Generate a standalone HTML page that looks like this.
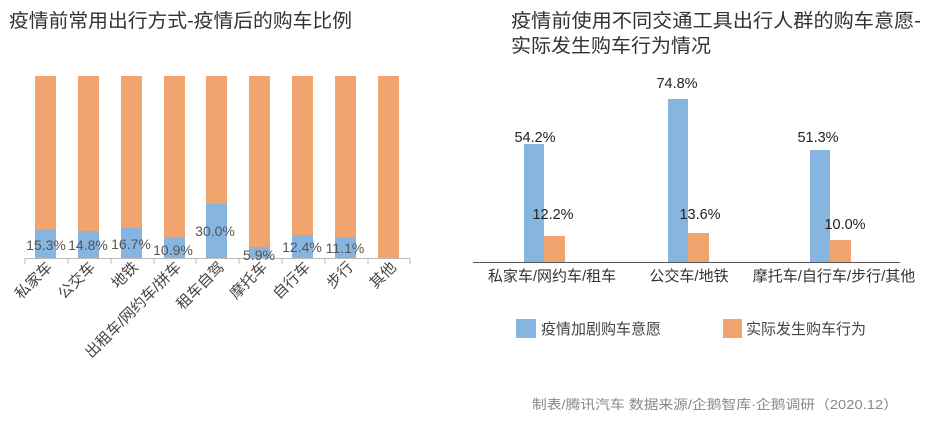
<!DOCTYPE html>
<html><head><meta charset="utf-8"><style>
body{margin:0;background:#fff;}
svg{display:block;font-family:"Liberation Sans","Noto Sans CJK SC",sans-serif;}
</style></head><body>
<svg width="936" height="424" viewBox="0 0 936 424" xmlns="http://www.w3.org/2000/svg">
<g fill="#333" font-size="19">
<text x="9" y="27" textLength="343" lengthAdjust="spacingAndGlyphs">疫情前常用出行方式-疫情后的购车比例</text>
<text x="511" y="27" textLength="410" lengthAdjust="spacingAndGlyphs">疫情前使用不同交通工具出行人群的购车意愿-</text>
<text x="511" y="52" textLength="200" lengthAdjust="spacingAndGlyphs">实际发生购车行为情况</text>
</g>
<g>
<line x1="25" y1="258.5" x2="410" y2="258.5" stroke="#bbb" stroke-width="1"/>
<g stroke="#bbb">
<line x1="25" y1="258" x2="25" y2="264"/><line x1="68" y1="258" x2="68" y2="264"/><line x1="111" y1="258" x2="111" y2="264"/><line x1="154" y1="258" x2="154" y2="264"/><line x1="196" y1="258" x2="196" y2="264"/><line x1="239" y1="258" x2="239" y2="264"/><line x1="282" y1="258" x2="282" y2="264"/><line x1="325" y1="258" x2="325" y2="264"/><line x1="368" y1="258" x2="368" y2="264"/><line x1="410" y1="258" x2="410" y2="264"/>
</g>
<g fill="#F0A46E">
<rect x="35" y="76" width="21" height="182"/><rect x="78" y="76" width="21" height="182"/><rect x="121" y="76" width="21" height="182"/><rect x="164" y="76" width="21" height="182"/><rect x="206" y="76" width="21" height="182"/><rect x="249" y="76" width="21" height="182"/><rect x="292" y="76" width="21" height="182"/><rect x="335" y="76" width="21" height="182"/><rect x="378" y="76" width="21" height="182"/>
</g>
<g fill="#86B5E0">
<rect x="35" y="230" width="21" height="28"/><rect x="78" y="231" width="21" height="27"/><rect x="121" y="228" width="21" height="30"/><rect x="164" y="238" width="21" height="20"/><rect x="206" y="204" width="21" height="54"/><rect x="249" y="247" width="21" height="11"/><rect x="292" y="235" width="21" height="23"/><rect x="335" y="238" width="21" height="20"/>
</g>
<g fill="#555" font-size="14" text-anchor="middle">
<text x="46" y="250">15.3%</text><text x="88" y="250">14.8%</text><text x="131" y="249">16.7%</text><text x="173" y="255">10.9%</text><text x="215" y="236">30.0%</text><text x="259" y="260">5.9%</text><text x="302" y="252">12.4%</text><text x="345" y="253">11.1%</text>
</g>
<g fill="#444" font-size="15" text-anchor="end">
<text transform="translate(53,268) rotate(-45)">私家车</text>
<text transform="translate(96,268) rotate(-45)">公交车</text>
<text transform="translate(139,268) rotate(-45)">地铁</text>
<text transform="translate(182,268) rotate(-45)">出租车/网约车/拼车</text>
<text transform="translate(225,268) rotate(-45)">租车自驾</text>
<text transform="translate(268,268) rotate(-45)">摩托车</text>
<text transform="translate(311,268) rotate(-45)">自行车</text>
<text transform="translate(354,268) rotate(-45)">步行</text>
<text transform="translate(397,268) rotate(-45)">其他</text>
</g>
</g>
<g>
<g fill="#86B5E0">
<rect x="524" y="144" width="20" height="118"/><rect x="668" y="99" width="20" height="163"/><rect x="810" y="150" width="20" height="112"/>
</g>
<g fill="#F0A46E">
<rect x="544" y="236" width="21" height="26"/><rect x="688" y="233" width="21" height="29"/><rect x="830" y="240" width="21" height="22"/>
</g>
<line x1="473" y1="262.5" x2="900" y2="262.5" stroke="#555" stroke-width="1"/>
<g fill="#222" font-size="14.5" text-anchor="middle">
<text x="535" y="142">54.2%</text><text x="677" y="88">74.8%</text><text x="818" y="142">51.3%</text>
<text x="553" y="219">12.2%</text><text x="700" y="219">13.6%</text><text x="845" y="229">10.0%</text>
</g>
<g fill="#333" font-size="15" text-anchor="middle">
<text x="552" y="281">私家车/网约车/租车</text>
<text x="689" y="281">公交车/地铁</text>
<text x="834" y="281">摩托车/自行车/步行/其他</text>
</g>
<rect x="516" y="319" width="20" height="19" fill="#86B5E0"/>
<text x="541" y="334" font-size="15" fill="#444">疫情加剧购车意愿</text>
<rect x="723" y="319" width="19" height="19" fill="#F0A46E"/>
<text x="746" y="334" font-size="15" fill="#444">实际发生购车行为</text>
</g>
<text x="898" y="409" font-size="13" fill="#888" text-anchor="end" textLength="366" lengthAdjust="spacingAndGlyphs">制表/腾讯汽车 数据来源/企鹅智库·企鹅调研（2020.12）</text>
</svg>
</body></html>
